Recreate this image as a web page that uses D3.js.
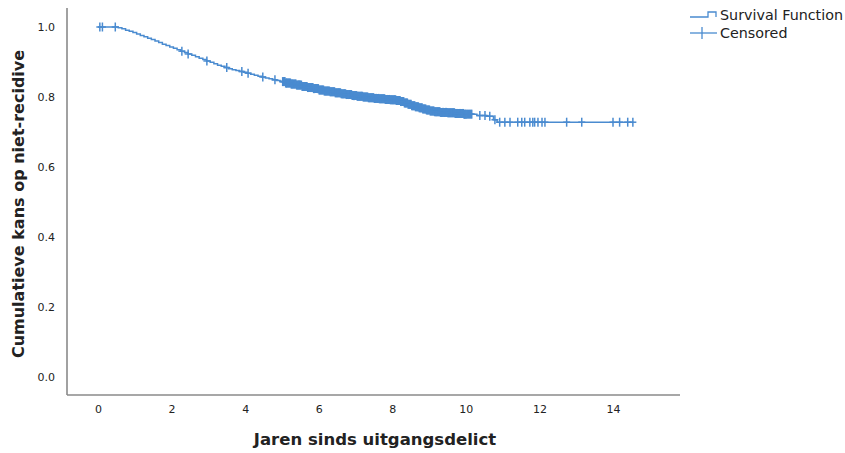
<!DOCTYPE html>
<html>
<head>
<meta charset="utf-8">
<script src="https://cdn.jsdelivr.net/npm/d3@7"></script>
<style>
  html, body { margin: 0; padding: 0; background: #fff; }
  svg { display: block; }
</style>
</head>
<body>
<svg id="chart" width="845" height="453"></svg>
<script>
// ---- Data ----
const eventTimes = [0, 0.55, 0.65, 0.75, 0.85, 0.95, 1.05, 1.15, 1.25, 1.35, 1.45, 1.55, 1.65, 1.75, 1.85, 1.95, 2.05, 2.15, 2.25, 2.35, 2.45, 2.55, 2.65, 2.75, 2.85, 2.95, 3.05, 3.15, 3.25, 3.35, 3.45, 3.55, 3.65, 3.75, 3.85, 3.95, 4.05, 4.15, 4.25, 4.35, 4.45, 4.55, 4.65, 4.75, 4.85, 4.95, 5.1, 5.25, 5.4, 5.55, 5.7, 5.85, 6.0, 6.15, 6.3, 6.45, 6.6, 6.75, 6.9, 7.05, 7.2, 7.35, 7.5, 7.65, 7.8, 7.95, 8.1, 8.22, 8.32, 8.42, 8.52, 8.62, 8.72, 8.82, 8.92, 9.02, 9.15, 9.3, 9.5, 9.7, 9.95, 10.3, 10.55, 10.75, 10.85];
const survival   = [1.0, 0.998, 0.995, 0.991, 0.988, 0.984, 0.98, 0.976, 0.972, 0.968, 0.964, 0.96, 0.956, 0.951, 0.947, 0.943, 0.939, 0.935, 0.931, 0.927, 0.923, 0.919, 0.915, 0.911, 0.907, 0.903, 0.899, 0.895, 0.891, 0.888, 0.884, 0.881, 0.878, 0.876, 0.873, 0.871, 0.868, 0.865, 0.862, 0.859, 0.857, 0.854, 0.852, 0.849, 0.847, 0.844, 0.84, 0.837, 0.834, 0.83, 0.827, 0.824, 0.82, 0.817, 0.815, 0.812, 0.809, 0.807, 0.804, 0.802, 0.8, 0.798, 0.796, 0.795, 0.793, 0.792, 0.79, 0.787, 0.783, 0.779, 0.775, 0.772, 0.769, 0.766, 0.763, 0.76, 0.758, 0.756, 0.755, 0.753, 0.751, 0.747, 0.745, 0.735, 0.728];
const lastTime = 14.55;
const censoredTimes = [0.05, 0.12, 0.47, 2.28, 2.45, 2.96, 3.5, 3.91, 4.08, 4.48, 4.81,
  5.02,5.04,5.06,5.08,5.1,5.12,5.13,5.15,5.17,5.19,5.21,5.23,5.25,5.27,5.28,5.3,5.32,5.34,5.36,5.38,5.4,5.42,5.44,5.46,5.47,5.49,5.51,5.53,5.55,5.57,5.59,5.61,5.63,5.65,5.66,5.68,5.7,5.72,5.74,5.76,5.78,5.8,5.82,5.84,5.86,5.88,5.9,5.92,5.93,5.95,5.97,5.99,
  6.01,6.03,6.05,6.07,6.09,6.11,6.13,6.15,6.17,6.19,6.21,6.23,6.25,6.27,6.29,6.31,6.33,6.35,6.37,6.39,6.41,6.43,6.45,6.47,6.49,6.51,6.53,6.55,6.57,6.59,6.61,6.63,6.65,6.67,6.69,6.71,6.73,6.75,6.77,6.79,6.81,6.83,6.85,6.87,6.89,6.91,6.93,6.95,6.97,6.99,
  7.01,7.03,7.05,7.07,7.09,7.11,7.13,7.15,7.17,7.19,7.21,7.23,7.25,7.27,7.29,7.31,7.33,7.35,7.37,7.39,7.41,7.43,7.45,7.47,7.49,7.51,7.53,7.55,7.57,7.59,7.61,7.63,7.65,7.67,7.69,7.71,7.73,7.75,7.77,7.79,7.81,7.83,7.85,7.87,7.89,7.91,7.93,7.95,7.97,7.99,
  8.01,8.03,8.05,8.07,8.09,8.11,8.13,8.15,8.17,8.19,8.21,8.23,8.25,8.27,8.29,8.31,8.33,8.35,8.37,8.39,8.41,8.43,8.45,8.47,8.49,8.51,8.53,8.55,8.57,8.59,8.61,8.63,8.65,8.67,8.69,8.71,8.73,8.75,8.77,8.79,8.81,8.83,8.85,8.87,8.89,8.91,8.93,8.95,8.97,8.99,
  9.01,9.03,9.05,9.07,9.09,9.11,9.13,9.15,9.17,9.19,9.21,9.23,9.25,9.27,9.29,9.31,9.33,9.35,9.37,9.39,9.41,9.43,9.45,9.47,9.49,9.51,9.53,9.55,9.57,9.59,9.61,9.63,9.65,9.67,9.69,9.71,9.73,9.75,9.77,9.79,9.81,9.83,9.85,9.87,9.89,9.91,9.93,9.95,9.97,9.99,
  10.01,10.04,10.07,10.1,10.13,10.16, 10.38, 10.52, 10.65, 10.79,
  10.92, 11.06, 11.2, 11.41, 11.52, 11.6, 11.74, 11.82, 11.87, 11.96, 12.07, 12.15, 12.74, 13.15, 14.0, 14.18, 14.4, 14.54];
const xTicks = [0, 2, 4, 6, 8, 10, 12, 14];
const yTicks = [0.0, 0.2, 0.4, 0.6, 0.8, 1.0];
const xTitle = "Jaren sinds uitgangsdelict";
const yTitle = "Cumulatieve kans op niet-recidive";
const legendLabels = ["Survival Function", "Censored"];

// ---- Layout ----
const svg = d3.select("#chart");
const color = "#4a8bd0";
const axisColor = "#8a8a8a";
const textColor = "#222";

const x = d3.scaleLinear().domain([0, 14]).range([98, 613]);
const y = d3.scaleLinear().domain([0, 1]).range([377, 27]);
const xLeft = 67, xRight = 680, yTop = 8, yBottom = 395;

// Axis lines
svg.append("line").attr("x1", xLeft).attr("x2", xLeft).attr("y1", yTop).attr("y2", yBottom)
  .attr("stroke", axisColor).attr("stroke-width", 1.6);
svg.append("line").attr("x1", xLeft).attr("x2", xRight).attr("y1", yBottom).attr("y2", yBottom)
  .attr("stroke", axisColor).attr("stroke-width", 1.6);

// Tick labels via axes (no tick marks)
const xAxis = d3.axisBottom(x).tickValues(xTicks).tickSize(0).tickPadding(10).tickFormat(d3.format("d"));
const gx = svg.append("g").attr("transform", `translate(0,${yBottom})`).call(xAxis);
gx.select(".domain").remove();
gx.selectAll("text").attr("font-family", "DejaVu Sans, sans-serif").attr("font-size", 11).attr("fill", textColor);

const yAxis = d3.axisLeft(y).tickValues(yTicks).tickSize(0).tickPadding(12).tickFormat(d3.format(".1f"));
const gy = svg.append("g").attr("transform", `translate(${xLeft},0)`).call(yAxis);
gy.select(".domain").remove();
gy.selectAll("text").attr("font-family", "DejaVu Sans, sans-serif").attr("font-size", 11).attr("fill", textColor);

// Titles
svg.append("text").attr("x", 375).attr("y", 445).attr("text-anchor", "middle")
  .attr("font-family", "DejaVu Sans, sans-serif").attr("font-weight", "bold").attr("font-size", 16.5)
  .attr("fill", textColor).text(xTitle);
svg.append("text").attr("transform", "translate(24,204) rotate(-90)").attr("text-anchor", "middle")
  .attr("font-family", "DejaVu Sans, sans-serif").attr("font-weight", "bold").attr("font-size", 16)
  .attr("fill", textColor).text(yTitle);

// Step function
const steps = eventTimes.map((t, i) => ({ t, s: survival[i] }));
steps.push({ t: lastTime, s: survival[survival.length - 1] });
const line = d3.line().x(d => x(d.t)).y(d => y(d.s)).curve(d3.curveStepAfter);
svg.append("path").datum(steps).attr("d", line)
  .attr("fill", "none").attr("stroke", color).attr("stroke-width", 1.5);

// Censored markers
function sAt(t) {
  const i = d3.bisectRight(eventTimes, t) - 1;
  return survival[Math.max(0, i)];
}
const cg = svg.append("g").attr("stroke", color).attr("stroke-width", 1.5);
censoredTimes.forEach(t => {
  const cx = x(t), cy = y(sAt(t));
  cg.append("line").attr("x1", cx).attr("x2", cx).attr("y1", cy - 4.5).attr("y2", cy + 4.5);
  cg.append("line").attr("x1", cx - 3.5).attr("x2", cx + 3.5).attr("y1", cy).attr("y2", cy);
});

// Legend
const lg = svg.append("g");
lg.append("path").attr("d", "M690,17 L708,17 L708,12 L716,12 L716,17")
  .attr("fill", "none").attr("stroke", color).attr("stroke-width", 1.3);
lg.append("text").attr("x", 720).attr("y", 20).attr("font-family", "DejaVu Sans, sans-serif")
  .attr("font-size", 14.3).attr("fill", textColor).text(legendLabels[0]);
lg.append("line").attr("x1", 690).attr("x2", 717).attr("y1", 33).attr("y2", 33)
  .attr("stroke", color).attr("stroke-width", 1.3);
lg.append("line").attr("x1", 702).attr("x2", 702).attr("y1", 27).attr("y2", 39)
  .attr("stroke", color).attr("stroke-width", 1.3);
lg.append("text").attr("x", 720).attr("y", 38).attr("font-family", "DejaVu Sans, sans-serif")
  .attr("font-size", 14.3).attr("fill", textColor).text(legendLabels[1]);
</script>
</body>
</html>
